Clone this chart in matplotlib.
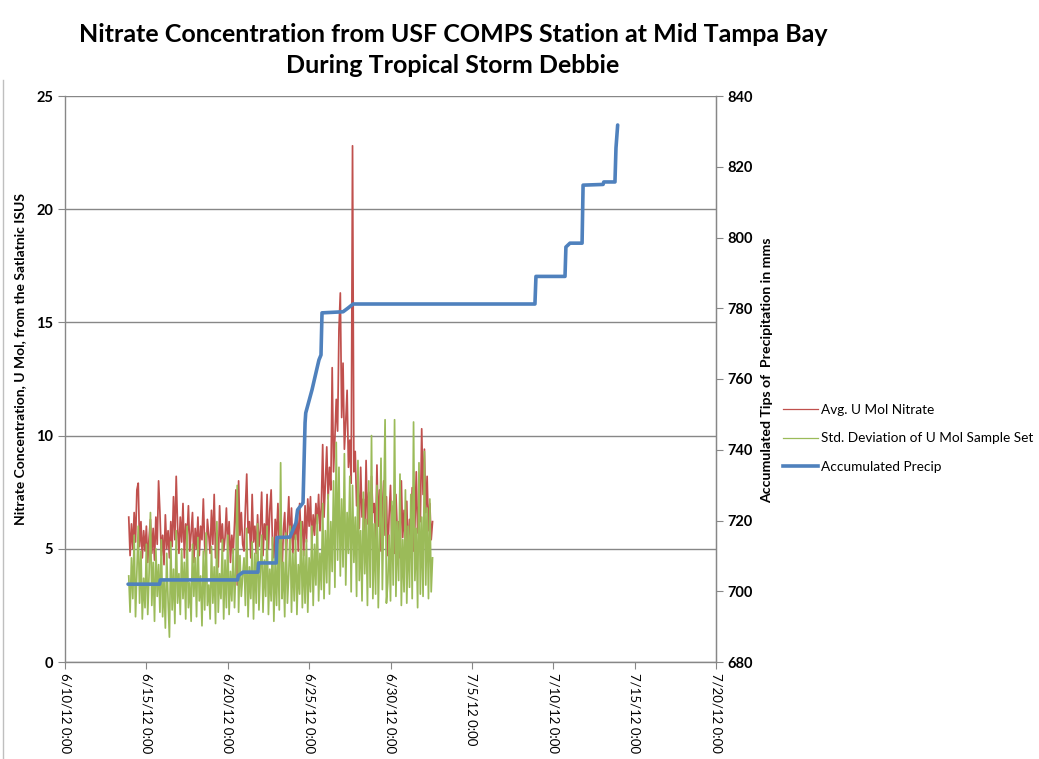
import matplotlib
matplotlib.use("Agg")
import matplotlib.pyplot as plt
from matplotlib.lines import Line2D
import pandas as pd

plt.rcParams['font.family'] = ['Lato', 'DejaVu Sans']

# ---------------- data ----------------
nitrate_start = "2012-06-13 22:00"
nitrate_step = "2h"

avg_nitrate = [
    6.4,
    4.7, 6.1, 5.0, 6.6, 5.3, 7.6, 7.9, 5.1, 6.2, 4.6, 5.8, 4.9,   # 6/14
    6.0, 4.4, 5.5, 6.3, 4.8, 5.9, 4.5, 6.4, 5.2, 8.0, 6.6, 4.7,   # 6/15
    5.6, 4.3, 6.5, 5.0, 5.8, 4.6, 6.2, 5.1, 7.3, 5.4, 8.2, 6.0,   # 6/16
    4.8, 6.4, 5.3, 7.0, 4.6, 6.1, 5.5, 6.9, 4.9, 5.7, 6.6, 4.4,   # 6/17
    5.9, 5.0, 6.4, 4.7, 6.0, 5.4, 7.2, 5.1, 4.5, 6.3, 5.6, 4.8,   # 6/18
    6.7, 5.2, 7.4, 4.6, 5.8, 4.2, 6.9, 5.3, 6.1, 4.9, 5.5, 6.8,   # 6/19
    5.0, 6.2, 4.4, 5.6, 4.8, 6.1, 7.6, 3.4, 8.0, 5.6, 6.6, 5.2,   # 6/20
    4.9, 6.8, 8.3, 5.7, 6.2, 4.6, 7.4, 5.3, 6.0, 4.8, 6.5, 5.1,   # 6/21
    5.8, 7.5, 4.7, 6.1, 5.4, 7.4, 5.0, 6.7, 7.6, 5.2, 4.6, 6.3,   # 6/22
    5.5, 7.0, 4.9, 6.2, 3.9, 5.8, 6.6, 4.5, 5.9, 7.3, 5.1, 6.8,   # 6/23
    4.8, 6.0, 5.4, 6.6, 4.9, 7.0, 5.6, 6.2, 4.7, 6.9, 5.3, 7.2,   # 6/24
    6.0, 7.3, 5.2, 6.5, 5.6, 7.0, 6.1, 7.4, 5.8, 6.9, 9.6, 6.4,   # 6/25
    8.0, 9.5, 7.2, 8.6, 7.6, 13.0, 8.4, 9.9, 11.6, 10.2, 14.7, 16.3,  # 6/26
    10.8, 13.2, 9.4, 10.6, 12.0, 8.6, 9.8, 7.9, 22.8, 8.4, 9.3, 6.9,  # 6/27
    7.8, 5.9, 8.6, 6.4, 7.2, 5.5, 8.9, 6.1, 7.5, 5.2, 8.2, 6.6,   # 6/28
    7.0, 5.4, 8.7, 6.0, 7.6, 4.9, 6.8, 8.0, 5.6, 7.3, 4.7, 6.5,   # 6/29
    7.8, 5.3, 6.9, 4.8, 7.4, 5.8, 6.2, 4.6, 8.0, 5.5, 6.7, 5.0,   # 6/30
    7.1, 4.5, 6.3, 5.6, 7.7, 4.9, 6.0, 8.4, 5.7, 7.0, 6.2, 10.3,  # 7/1
    7.4, 9.4, 6.6, 8.2, 5.8, 7.0, 5.4, 6.2,                       # 7/2
]

std_dev = [
    3.8,
    2.2, 4.6, 2.8, 5.6, 2.0, 4.0, 6.0, 2.6, 4.9, 1.9, 3.7, 2.4,   # 6/14
    5.2, 2.1, 3.9, 6.6, 2.5, 4.4, 1.8, 5.0, 2.9, 4.3, 2.2, 5.4,   # 6/15
    2.0, 3.6, 1.5, 4.8, 2.7, 1.1, 5.3, 2.3, 4.1, 1.7, 5.8, 2.6,   # 6/16
    3.9, 2.1, 5.0, 2.8, 4.4, 1.9, 6.0, 2.4, 3.5, 1.8, 5.2, 2.9,   # 6/17
    4.6, 2.0, 5.5, 2.7, 3.8, 1.6, 4.9, 2.3, 5.7, 2.5, 3.4, 1.9,   # 6/18
    5.1, 2.6, 4.2, 1.7, 6.2, 2.2, 3.9, 2.8, 5.4, 1.9, 4.5, 2.4,   # 6/19
    5.6, 2.1, 4.0, 2.7, 5.0, 2.4, 4.3, 7.8, 2.2, 4.7, 2.9, 3.8,   # 6/20
    4.6, 2.5, 5.9, 2.0, 4.2, 2.8, 5.3, 1.9, 4.8, 2.6, 6.1, 2.3,   # 6/21
    3.9, 5.6, 2.2, 4.5, 2.9, 6.0, 2.1, 4.1, 2.7, 5.5, 1.8, 4.6,   # 6/22
    2.5, 5.2, 2.3, 8.8, 2.8, 4.4, 2.0, 5.7, 2.6, 3.9, 6.0, 2.2,   # 6/23
    4.8, 2.7, 5.6, 2.1, 4.3, 3.0, 6.2, 2.4, 4.9, 2.6, 5.4, 2.2,   # 6/24
    4.6, 3.1, 6.0, 2.5, 5.2, 3.4, 6.5, 2.7, 4.8, 3.2, 7.0, 2.8,   # 6/25
    5.8, 3.5, 7.4, 3.0, 6.2, 4.0, 8.0, 3.3, 9.7, 4.5, 8.6, 3.8,   # 6/26
    7.2, 4.2, 9.2, 3.4, 6.6, 4.8, 8.2, 3.1, 7.8, 4.4, 6.4, 2.9,   # 6/27
    8.9, 3.6, 5.8, 2.7, 7.5, 3.9, 6.3, 2.5, 8.0, 3.3, 10.0, 2.8,  # 6/28
    6.1, 3.0, 7.8, 2.4, 5.5, 9.0, 3.2, 6.7, 10.7, 2.6, 3.5, 5.6,  # 6/29
    2.7, 7.1, 3.4, 10.7, 2.9, 6.2, 3.6, 8.3, 2.5, 5.4, 3.1, 7.6,  # 6/30
    2.6, 6.0, 3.3, 7.4, 2.8, 10.6, 3.6, 5.9, 2.4, 8.8, 3.0, 6.4,  # 7/1
    2.9, 9.3, 3.4, 6.8, 2.8, 7.2, 3.1, 4.6,                       # 7/2
]

precip_times = [
    "2012-06-13 21:00", "2012-06-15 19:30", "2012-06-15 20:30", "2012-06-20 14:30",
    "2012-06-20 15:30", "2012-06-20 22:30", "2012-06-21 20:30", "2012-06-21 21:30",
    "2012-06-22 23:30", "2012-06-23 00:30", "2012-06-23 19:40", "2012-06-24 04:30",
    "2012-06-24 07:00", "2012-06-24 15:00", "2012-06-24 18:00", "2012-06-24 19:00",
    "2012-06-25 04:20", "2012-06-25 08:40", "2012-06-25 14:30", "2012-06-25 17:30",
    "2012-06-25 19:00", "2012-06-27 02:00", "2012-06-27 09:00", "2012-06-27 16:50",
    "2012-07-08 21:00", "2012-07-08 22:30", "2012-07-10 17:20", "2012-07-10 18:40",
    "2012-07-11 00:40", "2012-07-11 18:30", "2012-07-11 20:00", "2012-07-13 01:30",
    "2012-07-13 02:30", "2012-07-13 19:00", "2012-07-13 20:30", "2012-07-13 23:00",
]
precip_values = [
    702.0, 702.0, 703.2, 703.2,
    704.4, 705.4, 705.4, 708.0,
    708.0, 715.2, 715.3, 719.3,
    723.0, 725.0, 747.6, 750.4,
    757.0, 760.6, 765.4, 766.8,
    778.7, 779.0, 780.0, 781.2,
    781.2, 789.0, 789.0, 797.3,
    798.4, 798.4, 814.8, 815.0,
    815.7, 815.7, 825.3, 831.8,
]

x_ticks = ["2012-06-10", "2012-06-15", "2012-06-20", "2012-06-25", "2012-06-30",
           "2012-07-05", "2012-07-10", "2012-07-15", "2012-07-20"]
x_tick_labels = ["6/10/12 0:00", "6/15/12 0:00", "6/20/12 0:00", "6/25/12 0:00",
                 "6/30/12 0:00", "7/5/12 0:00", "7/10/12 0:00", "7/15/12 0:00",
                 "7/20/12 0:00"]
left_ticks = [0, 5, 10, 15, 20, 25]
right_ticks = [680, 700, 720, 740, 760, 780, 800, 820, 840]

title = "Nitrate Concentration from USF COMPS Station at Mid Tampa Bay\nDuring Tropical Storm Debbie"
left_label = "Nitrate Concentration, U Mol, from the Satlatnic ISUS"
right_label = "Accumulated Tips of  Precipitation in mms"
series_names = ["Avg. U Mol Nitrate", "Std. Deviation of U Mol Sample Set", "Accumulated Precip"]

# ---------------- figure ----------------
RED = "#C0504D"
GREEN = "#9BBB59"
BLUE = "#4F81BD"
GRID = "#878787"

W, H = 1039, 759
fig = plt.figure(figsize=(W / 100, H / 100), dpi=100)
ax = fig.add_axes([65 / W, 1 - 662 / H, (716 - 65) / W, (662 - 96) / H])

t_nit = pd.date_range(nitrate_start, periods=len(avg_nitrate), freq=nitrate_step)
ax.plot(t_nit, avg_nitrate, color=RED, lw=1.25, zorder=2)
ax.plot(t_nit, std_dev, color=GREEN, lw=1.25, zorder=3)

ax.set_ylim(0, 25)
ax.set_yticks(left_ticks)
xt = pd.to_datetime(x_ticks)
ax.set_xlim(xt[0], xt[-1])
ax.set_xticks(xt)
ax.set_xticklabels(x_tick_labels, rotation=-90, ha="center", va="top", fontsize=9.5)
ax.tick_params(axis="x", length=5, color=GRID, pad=3)
ax.tick_params(axis="y", length=5, color=GRID, labelsize=10.5)
for lab in ax.get_yticklabels():
    lab.set_fontweight("bold")
ax.yaxis.grid(True, color=GRID, lw=1.0)
ax.set_axisbelow(True)
ax.spines["top"].set_visible(False)
for s in ["left", "bottom", "right"]:
    ax.spines[s].set_color(GRID)
    ax.spines[s].set_linewidth(1.0)

ax2 = ax.twinx()
t_pr = pd.to_datetime(precip_times)
ax2.plot(t_pr, precip_values, color=BLUE, lw=2.6, solid_joinstyle="round",
         solid_capstyle="round", zorder=4)
ax2.set_ylim(680, 840)
ax2.set_yticks(right_ticks)
ax2.tick_params(axis="y", length=5, color=GRID, labelsize=10.5)
for lab in ax2.get_yticklabels():
    lab.set_fontweight("bold")
for s in ["top", "left", "bottom"]:
    ax2.spines[s].set_visible(False)
ax2.spines["right"].set_color(GRID)

fig.text(453 / W, 1 - 50 / H, title, ha="center", va="center",
         fontsize=18, fontweight="bold", linespacing=1.45)
fig.text(20 / W, 1 - 359 / H, left_label, rotation=90, ha="center", va="center",
         fontsize=10, fontweight="bold")
fig.text(767 / W, 1 - 370 / H, right_label, rotation=90, ha="center", va="center",
         fontsize=10.2, fontweight="bold")

handles = [Line2D([], [], color=RED, lw=0.9),
           Line2D([], [], color=GREEN, lw=0.9),
           Line2D([], [], color=BLUE, lw=2.6)]
fig.legend(handles, series_names, loc="upper left",
           bbox_to_anchor=(783 / W, 1 - 404 / H), frameon=False, fontsize=9.8,
           handlelength=2.6, handletextpad=0.2, labelspacing=1.2,
           borderaxespad=0, borderpad=0)

fig.add_artist(Line2D([3 / W, 3 / W], [0, 1 - 80 / H], color="#BFBFBF", lw=1.0))

fig.savefig("out.png", dpi=100)
